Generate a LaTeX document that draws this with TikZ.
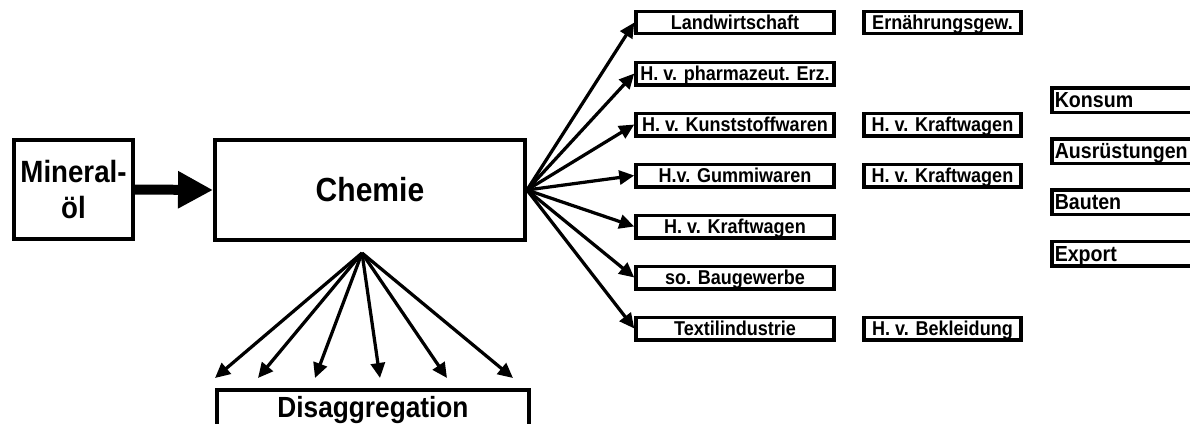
\documentclass[tikz,border=0pt]{standalone}
\usepackage{fontspec}
\setmainfont[FakeStretch=0.9]{Liberation Sans}
\usetikzlibrary{arrows.meta}

\begin{document}
\begin{tikzpicture}[x=0.02cm,y=-0.02cm,
    bigbox/.style={draw,line width=0.08cm,align=center,inner sep=0pt},
    branch/.style={draw,line width=0.07cm,minimum width=3.96cm,minimum height=0.45cm,inner sep=0pt,
        text height=8.2pt,text depth=0pt,font=\bfseries\fontsize{11.4}{13}\selectfont},
    follow/.style={branch,minimum width=3.15cm},
    demand/.style={draw,line width=0.07cm,anchor=west,text width=3.7cm,align=left,minimum height=0.49cm,
        inner xsep=0.06cm,inner ysep=0pt,text height=8.9pt,text depth=0pt,
        font=\bfseries\fontsize{12.4}{14}\selectfont},
    arr/.style={line width=0.065cm,-{Triangle[length=0.3cm,width=0.28cm]}}]
    \useasboundingbox (0,0) rectangle (1190,423);
    %% Input
    \node[bigbox,minimum width=2.38cm,minimum height=1.98cm,font=\bfseries\fontsize{17.5}{20}\selectfont]
        (oel) at (73.5,189.5) {Mineral-\\öl};
    \node[bigbox,minimum width=6.2cm,minimum height=2cm,font=\bfseries\fontsize{19}{22}\selectfont]
        (chemie) at (370,190) {Chemie};
    \draw[line width=0.2cm,-{Triangle[length=0.7cm,width=0.7cm]}] (oel.east) -- (chemie.west);
    %% Disaggregation
    \node[bigbox,minimum width=6.24cm,minimum height=0.8cm,font=\bfseries\fontsize{16.6}{19}\selectfont]
        (disagg) at (373,410) {Disaggregation};
    \coordinate (fan) at (362,253);
    \coordinate (d1) at (215,378);
    \coordinate (d2) at (258,378);
    \coordinate (d3) at (315,378);
    \coordinate (d4) at (380,378);
    \coordinate (d5) at (447,378);
    \coordinate (d6) at (513,378);
    \draw[arr] (fan) -- (d1);
    \draw[arr] (fan) -- (d2);
    \draw[arr] (fan) -- (d3);
    \draw[arr] (fan) -- (d4);
    \draw[arr] (fan) -- (d5);
    \draw[arr] (fan) -- (d6);
    %% Customer branches
    \node[branch] (landw) at (735,22.5) {Landwirtschaft};
    \node[branch] (pharma) at (735,73.5) {H. v. pharmazeut. Erz.};
    \node[branch] (kunst) at (735,124.5) {H. v. Kunststoffwaren};
    \node[branch] (gummi) at (735,175.5) {H.v. Gummiwaren};
    \node[branch] (kfz) at (735,226.5) {H. v. Kraftwagen};
    \node[branch] (bau) at (735,277.5) {so. Baugewerbe};
    \node[branch] (textil) at (735,328.5) {Textilindustrie};
    \draw[arr] (chemie.east) -- (landw.west);
    \draw[arr] (chemie.east) -- (pharma.west);
    \draw[arr] (chemie.east) -- (kunst.west);
    \draw[arr] (chemie.east) -- (gummi.west);
    \draw[arr] (chemie.east) -- (kfz.west);
    \draw[arr] (chemie.east) -- (bau.west);
    \draw[arr] (chemie.east) -- (textil.west);
    %% Next stage
    \node[follow] (ernaehr) at (942.5,22.5) {Ernährungsgew.};
    \node[follow] (kfzA) at (942.5,124.5) {H. v. Kraftwagen};
    \node[follow] (kfzB) at (942.5,175.5) {H. v. Kraftwagen};
    \node[follow] (bekl) at (942.5,328.5) {H. v. Bekleidung};
    %% Final demand
    \node[demand] (konsum) at (1050,100) {Konsum};
    \node[demand] (ausr) at (1050,151) {Ausrüstungen};
    \node[demand] (bauten) at (1050,202) {Bauten};
    \node[demand] (export) at (1050,253.5) {Export};
\end{tikzpicture}
\end{document}
